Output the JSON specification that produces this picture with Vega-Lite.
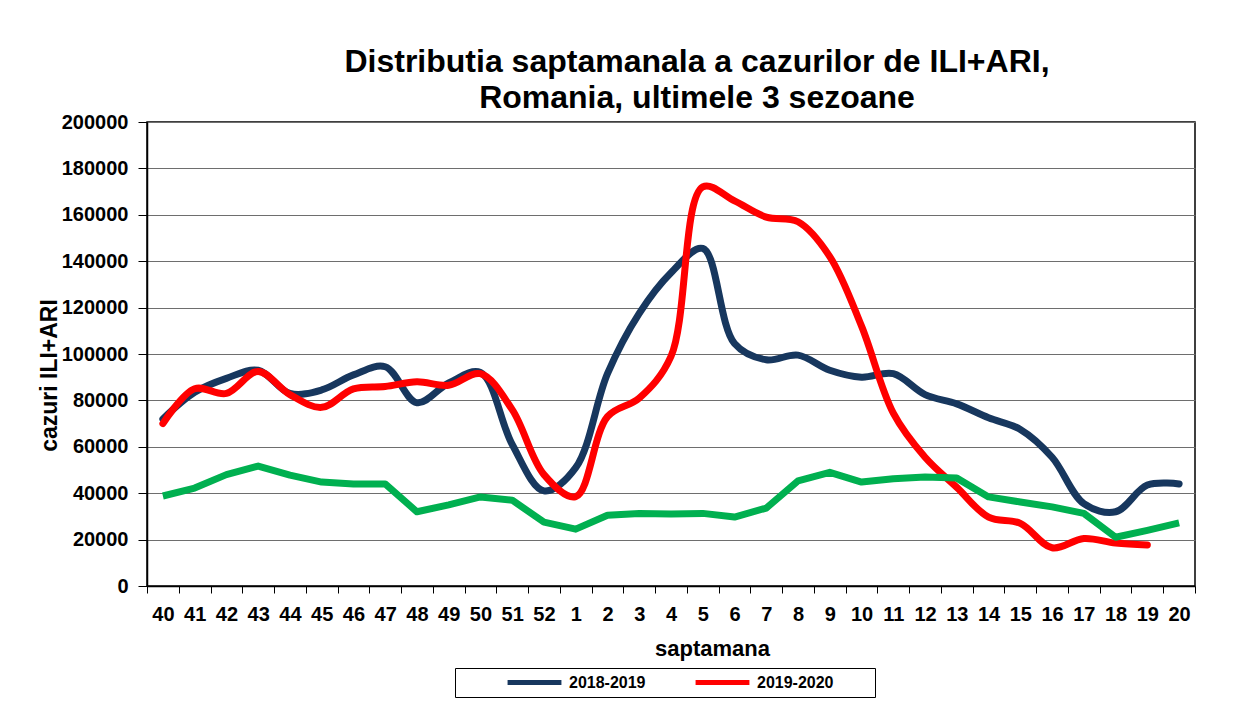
{
  "$schema": "https://vega.github.io/schema/vega-lite/v6.json",
  "width": 1048,
  "height": 464,
  "autosize": "none",
  "padding": {"left": 147, "top": 122, "right": 53, "bottom": 138},
  "background": "white",
  "title": {
    "text": ["Distributia saptamanala a cazurilor de ILI+ARI,", "Romania, ultimele 3 sezoane"],
    "font": "Liberation Sans",
    "fontSize": 32,
    "fontWeight": "bold",
    "color": "black",
    "anchor": "middle",
    "dx": 26,
    "offset": -3,
    "lineHeight": 36
  },
  "config": {
    "view": {"stroke": "black", "strokeWidth": 1.5},
    "font": "Liberation Sans",
    "axis": {
      "labelFont": "Liberation Sans",
      "labelFontWeight": "bold",
      "labelColor": "black",
      "titleFont": "Liberation Sans",
      "titleFontWeight": "bold",
      "titleColor": "black",
      "domainColor": "black",
      "domainWidth": 1.5,
      "tickColor": "black",
      "tickWidth": 1
    }
  },
  "data": {
    "values": [
      {"week": "40", "season": "2018-2019", "cazuri": 72000},
      {"week": "41", "season": "2018-2019", "cazuri": 83500},
      {"week": "42", "season": "2018-2019", "cazuri": 89500},
      {"week": "43", "season": "2018-2019", "cazuri": 93000},
      {"week": "44", "season": "2018-2019", "cazuri": 83000},
      {"week": "45", "season": "2018-2019", "cazuri": 84500},
      {"week": "46", "season": "2018-2019", "cazuri": 91000},
      {"week": "47", "season": "2018-2019", "cazuri": 94500},
      {"week": "48", "season": "2018-2019", "cazuri": 79000},
      {"week": "49", "season": "2018-2019", "cazuri": 87500},
      {"week": "50", "season": "2018-2019", "cazuri": 92000},
      {"week": "51", "season": "2018-2019", "cazuri": 61000},
      {"week": "52", "season": "2018-2019", "cazuri": 41000},
      {"week": "1", "season": "2018-2019", "cazuri": 51000},
      {"week": "2", "season": "2018-2019", "cazuri": 91500},
      {"week": "3", "season": "2018-2019", "cazuri": 117500},
      {"week": "4", "season": "2018-2019", "cazuri": 135000},
      {"week": "5", "season": "2018-2019", "cazuri": 145500},
      {"week": "6", "season": "2018-2019", "cazuri": 104500},
      {"week": "7", "season": "2018-2019", "cazuri": 97500},
      {"week": "8", "season": "2018-2019", "cazuri": 99500},
      {"week": "9", "season": "2018-2019", "cazuri": 93000},
      {"week": "10", "season": "2018-2019", "cazuri": 90000},
      {"week": "11", "season": "2018-2019", "cazuri": 91500},
      {"week": "12", "season": "2018-2019", "cazuri": 82500},
      {"week": "13", "season": "2018-2019", "cazuri": 78500},
      {"week": "14", "season": "2018-2019", "cazuri": 72500},
      {"week": "15", "season": "2018-2019", "cazuri": 67500},
      {"week": "16", "season": "2018-2019", "cazuri": 55500},
      {"week": "17", "season": "2018-2019", "cazuri": 35500},
      {"week": "18", "season": "2018-2019", "cazuri": 32000},
      {"week": "19", "season": "2018-2019", "cazuri": 43500},
      {"week": "20", "season": "2018-2019", "cazuri": 44000},
      {"week": "40", "season": "2019-2020", "cazuri": 70000},
      {"week": "41", "season": "2019-2020", "cazuri": 85000},
      {"week": "42", "season": "2019-2020", "cazuri": 83000},
      {"week": "43", "season": "2019-2020", "cazuri": 92500},
      {"week": "44", "season": "2019-2020", "cazuri": 82500},
      {"week": "45", "season": "2019-2020", "cazuri": 77000},
      {"week": "46", "season": "2019-2020", "cazuri": 85000},
      {"week": "47", "season": "2019-2020", "cazuri": 86000},
      {"week": "48", "season": "2019-2020", "cazuri": 88000},
      {"week": "49", "season": "2019-2020", "cazuri": 86500},
      {"week": "50", "season": "2019-2020", "cazuri": 91500},
      {"week": "51", "season": "2019-2020", "cazuri": 76000},
      {"week": "52", "season": "2019-2020", "cazuri": 48000},
      {"week": "1", "season": "2019-2020", "cazuri": 38500},
      {"week": "2", "season": "2019-2020", "cazuri": 73000},
      {"week": "3", "season": "2019-2020", "cazuri": 81000},
      {"week": "4", "season": "2019-2020", "cazuri": 99000},
      {"week": "5", "season": "2019-2020", "cazuri": 172000},
      {"week": "6", "season": "2019-2020", "cazuri": 166000},
      {"week": "7", "season": "2019-2020", "cazuri": 159000},
      {"week": "8", "season": "2019-2020", "cazuri": 157000},
      {"week": "9", "season": "2019-2020", "cazuri": 142000},
      {"week": "10", "season": "2019-2020", "cazuri": 112000},
      {"week": "11", "season": "2019-2020", "cazuri": 74500},
      {"week": "12", "season": "2019-2020", "cazuri": 55500},
      {"week": "13", "season": "2019-2020", "cazuri": 42500},
      {"week": "14", "season": "2019-2020", "cazuri": 29700},
      {"week": "15", "season": "2019-2020", "cazuri": 27000},
      {"week": "16", "season": "2019-2020", "cazuri": 16500},
      {"week": "17", "season": "2019-2020", "cazuri": 20500},
      {"week": "18", "season": "2019-2020", "cazuri": 18500},
      {"week": "19", "season": "2019-2020", "cazuri": 17700},
      {"week": "40", "season": "2017-2018", "cazuri": 38800},
      {"week": "41", "season": "2017-2018", "cazuri": 42200},
      {"week": "42", "season": "2017-2018", "cazuri": 48000},
      {"week": "43", "season": "2017-2018", "cazuri": 51700},
      {"week": "44", "season": "2017-2018", "cazuri": 47800},
      {"week": "45", "season": "2017-2018", "cazuri": 44800},
      {"week": "46", "season": "2017-2018", "cazuri": 44000},
      {"week": "47", "season": "2017-2018", "cazuri": 44000},
      {"week": "48", "season": "2017-2018", "cazuri": 32000},
      {"week": "49", "season": "2017-2018", "cazuri": 35000},
      {"week": "50", "season": "2017-2018", "cazuri": 38400},
      {"week": "51", "season": "2017-2018", "cazuri": 37000},
      {"week": "52", "season": "2017-2018", "cazuri": 27500},
      {"week": "1", "season": "2017-2018", "cazuri": 24500},
      {"week": "2", "season": "2017-2018", "cazuri": 30500},
      {"week": "3", "season": "2017-2018", "cazuri": 31200},
      {"week": "4", "season": "2017-2018", "cazuri": 31000},
      {"week": "5", "season": "2017-2018", "cazuri": 31300},
      {"week": "6", "season": "2017-2018", "cazuri": 29700},
      {"week": "7", "season": "2017-2018", "cazuri": 33600},
      {"week": "8", "season": "2017-2018", "cazuri": 45300},
      {"week": "9", "season": "2017-2018", "cazuri": 49000},
      {"week": "10", "season": "2017-2018", "cazuri": 44800},
      {"week": "11", "season": "2017-2018", "cazuri": 46200},
      {"week": "12", "season": "2017-2018", "cazuri": 47000},
      {"week": "13", "season": "2017-2018", "cazuri": 46500},
      {"week": "14", "season": "2017-2018", "cazuri": 38400},
      {"week": "15", "season": "2017-2018", "cazuri": 36200},
      {"week": "16", "season": "2017-2018", "cazuri": 34100},
      {"week": "17", "season": "2017-2018", "cazuri": 31300},
      {"week": "18", "season": "2017-2018", "cazuri": 21000},
      {"week": "19", "season": "2017-2018", "cazuri": 24000},
      {"week": "20", "season": "2017-2018", "cazuri": 27200}
    ]
  },
  "encoding": {
    "x": {
      "field": "week",
      "type": "ordinal",
      "sort": ["40","41","42","43","44","45","46","47","48","49","50","51","52","1","2","3","4","5","6","7","8","9","10","11","12","13","14","15","16","17","18","19","20"],
      "scale": {"type": "band", "paddingInner": 0, "paddingOuter": 0},
      "axis": {
        "title": "saptamana",
        "titleFontSize": 22,
        "titlePadding": 14,
        "titleX": 565,
        "labelFontSize": 20,
        "labelAngle": 0,
        "labelPadding": 11,
        "tickBand": "extent",
        "tickSize": 7,
        "grid": false
      }
    },
    "y": {
      "field": "cazuri",
      "type": "quantitative",
      "scale": {"domain": [0, 200000], "nice": false},
      "axis": {
        "title": "cazuri ILI+ARI",
        "titleFontSize": 23,
        "titleAngle": -90,
        "titleX": -98,
        "titleY": 253,
        "titleAlign": "center",
        "titleBaseline": "middle",
        "values": [0,20000,40000,60000,80000,100000,120000,140000,160000,180000,200000],
        "format": "d",
        "labelFontSize": 20,
        "labelPadding": 10,
        "tickSize": 9,
        "grid": true,
        "gridColor": "#6e6e6e",
        "gridWidth": 1.2
      }
    },
    "color": {
      "field": "season",
      "type": "nominal",
      "scale": {"domain": ["2018-2019", "2019-2020", "2017-2018"], "range": ["#17375E", "#FF0000", "#00B050"]},
      "legend": {
        "values": ["2018-2019", "2019-2020"],
        "title": "\u00a0",
        "titleOrient": "right",
        "titlePadding": 35,
        "titleFontSize": 6,
        "orient": "none",
        "legendX": 308,
        "legendY": 546,
        "direction": "horizontal",
        "strokeColor": "black",
        "fillColor": "white",
        "padding": 6,
        "clipHeight": 17,
        "symbolType": "stroke",
        "symbolStrokeWidth": 5,
        "symbolSize": 2900,
        "symbolOffset": 44,
        "labelFont": "Liberation Sans",
        "labelFontWeight": "bold",
        "labelFontSize": 16,
        "labelColor": "black",
        "labelOffset": 5,
        "columnPadding": 3
      }
    }
  },
  "layer": [
    {
      "transform": [{"filter": "datum.season != '2017-2018'"}],
      "mark": {"type": "line", "interpolate": "catmull-rom", "strokeWidth": 7, "strokeCap": "round", "strokeJoin": "round"}
    },
    {
      "transform": [{"filter": "datum.season == '2017-2018'"}],
      "mark": {"type": "line", "interpolate": "linear", "strokeWidth": 7, "strokeJoin": "round"}
    }
  ]
}
